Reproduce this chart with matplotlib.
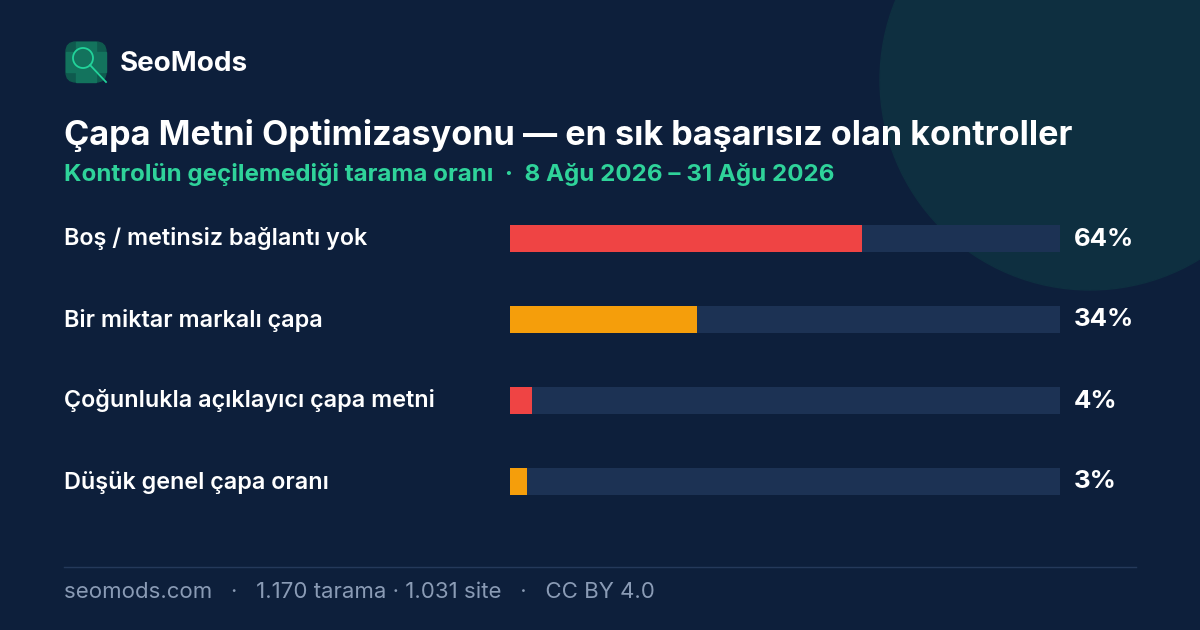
import matplotlib
matplotlib.use("Agg")
import matplotlib.pyplot as plt
from matplotlib.patches import Circle, FancyBboxPatch, Rectangle

categories = ["Boş / metinsiz bağlantı yok", "Bir miktar markalı çapa",
              "Çoğunlukla açıklayıcı çapa metni", "Düşük genel çapa oranı"]
values = [64, 34, 4, 3]
colors = ["#ef4444", "#f59e0b", "#ef4444", "#f59e0b"]
labels = ["64%", "34%", "4%", "3%"]

W, H = 1200, 630
fig = plt.figure(figsize=(12, 6.3), dpi=100)
bg = fig.add_axes([0, 0, 1, 1])
bg.set_xlim(0, W); bg.set_ylim(H, 0); bg.axis("off")
fig.patch.set_facecolor("#0d1f3b")
bg.add_patch(Rectangle((0, 0), W, H, color="#0d1f3b", zorder=0))
bg.add_patch(Circle((1090, 80), 210, color="#0e2f40", zorder=1))

F = "Inter"
# logo
bg.add_patch(FancyBboxPatch((66, 42), 40, 40, boxstyle="round,pad=0,rounding_size=10",
                            color="#0f5a4e", zorder=2))
bg.add_patch(Rectangle((76, 42), 20, 40, color="#13735d", zorder=2))
bg.add_patch(Rectangle((66, 52), 40, 20, color="#13735d", zorder=2))
bg.add_patch(Circle((83, 58), 10, fill=False, ec="#22d39a", lw=1.3, zorder=3))
bg.plot([90, 106], [65, 82], color="#22d39a", lw=1.3, zorder=3)
bg.text(120, 64, "SeoMods", color="white", fontsize=20, fontweight="bold",
        family=F, va="center", zorder=3)

bg.text(64, 136, "Çapa Metni Optimizasyonu — en sık başarısız olan kontroller",
        color="white", fontsize=24.6, fontweight="bold", family=F, va="center", zorder=3)
bg.text(64, 175, "Kontrolün geçilemediği tarama oranı  ·  8 Ağu 2026 – 31 Ağu 2026",
        color="#2fd39a", fontsize=17.4, fontweight="bold", family=F, va="center", zorder=3)

ax = fig.add_axes([510 / W, 1 - 522 / H, 550 / W, (522 - 198) / H])
ax.set_xlim(0, 100); ax.set_ylim(len(values) - 0.5, -0.5); ax.axis("off")
y = range(len(values))
ax.barh(y, [100] * len(values), height=0.34, color="#1c3254")
ax.barh(y, values, height=0.34, color=colors)
for i, (c, l) in enumerate(zip(categories, labels)):
    yy = 239 + i * 81
    bg.text(64, yy, c, color="white", fontsize=16.8, fontweight="semibold", family=F,
            va="center", zorder=3)
    bg.text(1074, yy, l, color="white", fontsize=18.6, fontweight="bold", family=F,
            va="center", zorder=3)

bg.plot([64, 1136], [567, 567], color="#24395a", lw=1, zorder=3)
bg.text(64, 592, "seomods.com   ·   1.170 tarama · 1.031 site   ·   CC BY 4.0",
        color="#8a9bb5", fontsize=16, family=F, va="center", zorder=3)
fig.savefig("out.png", dpi=100, facecolor=fig.get_facecolor())
